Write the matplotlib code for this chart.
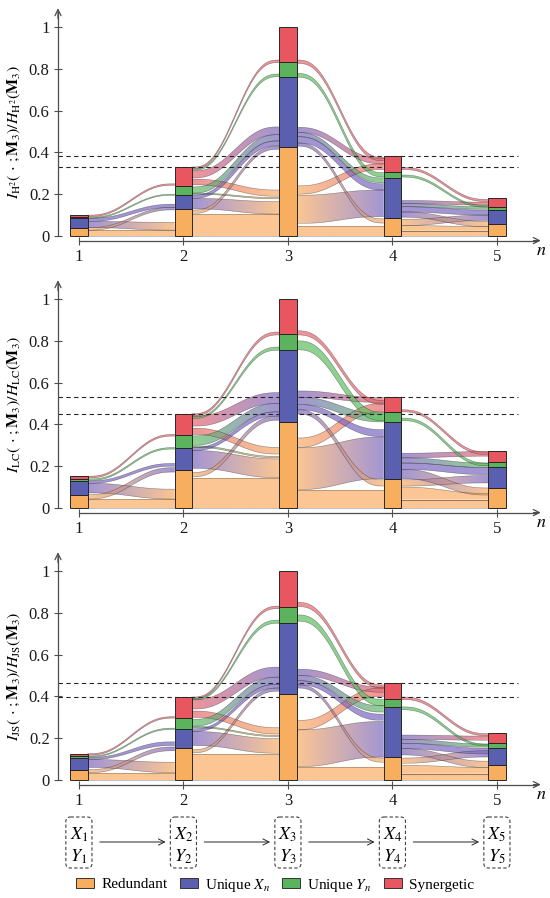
import numpy as np
import matplotlib
matplotlib.use("Agg")
import matplotlib.pyplot as plt
from matplotlib.patches import Polygon, Patch, FancyBboxPatch
from matplotlib.colors import to_rgba

plt.rcParams['font.family'] = ['Liberation Serif', 'DejaVu Serif']
plt.rcParams['mathtext.fontset'] = 'stix'
plt.rcParams['font.size'] = 11

steps = [1, 2, 3, 4, 5]
atom_names = ['Redundant', 'Unique $X_n$', 'Unique $Y_n$', 'Synergetic']
bar_colors = ['#F8AE5F', '#5A5FAF', '#5BB35E', '#E8565F']
flow_colors = ['#FAB06A', '#7E6CC2', '#62C066', '#E96A72']

ylabels = [r'$I_{\mathrm{H}^2}(\,\cdot\,;\mathbf{M}_3)/H_{\mathrm{H}^2}(\mathbf{M}_3)$',
           r'$I_{\mathrm{LC}}(\,\cdot\,;\mathbf{M}_3)/H_{\mathrm{LC}}(\mathbf{M}_3)$',
           r'$I_{\mathrm{JS}}(\,\cdot\,;\mathbf{M}_3)/H_{\mathrm{JS}}(\mathbf{M}_3)$']

# atom sizes per step (redundant, unique X, unique Y, synergetic)
h2_red = [0.038, 0.129, 0.426, 0.086, 0.057]
h2_ux = [0.048, 0.067, 0.335, 0.191, 0.067]
h2_uy = [0.004, 0.044, 0.072, 0.029, 0.014]
h2_syn = [0.010, 0.090, 0.167, 0.077, 0.042]

lc_red = [0.064, 0.183, 0.411, 0.139, 0.096]
lc_ux = [0.066, 0.104, 0.343, 0.274, 0.098]
lc_uy = [0.010, 0.064, 0.078, 0.046, 0.024]
lc_syn = [0.012, 0.100, 0.168, 0.070, 0.056]

js_red = [0.048, 0.155, 0.413, 0.109, 0.072]
js_ux = [0.056, 0.088, 0.339, 0.238, 0.083]
js_uy = [0.011, 0.053, 0.075, 0.040, 0.021]
js_syn = [0.011, 0.101, 0.173, 0.075, 0.051]

# flows between steps: (source atom, target atom, left lo, left hi, right lo, right hi)
h2_flows = [
    [(0, 0, 0.000, 0.028, 0.000, 0.028), (1, 0, 0.040, 0.070, 0.028, 0.065),
     (0, 1, 0.028, 0.040, 0.125, 0.137), (1, 1, 0.070, 0.085, 0.137, 0.152),
     (2, 2, 0.085, 0.090, 0.195, 0.200), (3, 3, 0.093, 0.100, 0.243, 0.250)],
    [(0, 0, 0.000, 0.105, 0.000, 0.105), (1, 0, 0.130, 0.180, 0.105, 0.165),
     (2, 0, 0.200, 0.205, 0.178, 0.184), (3, 0, 0.245, 0.272, 0.190, 0.220),
     (0, 1, 0.108, 0.124, 0.415, 0.430), (1, 1, 0.180, 0.196, 0.432, 0.455),
     (2, 1, 0.205, 0.235, 0.455, 0.485), (3, 1, 0.278, 0.312, 0.485, 0.522),
     (2, 2, 0.314, 0.320, 0.762, 0.775), (3, 3, 0.322, 0.330, 0.830, 0.842)],
    [(0, 0, 0.000, 0.050, 0.000, 0.050), (0, 1, 0.060, 0.195, 0.093, 0.220),
     (0, 3, 0.200, 0.240, 0.318, 0.345), (1, 0, 0.430, 0.445, 0.062, 0.082),
     (1, 1, 0.445, 0.475, 0.220, 0.250), (1, 2, 0.475, 0.495, 0.255, 0.278),
     (1, 3, 0.495, 0.520, 0.345, 0.372), (2, 2, 0.760, 0.778, 0.283, 0.303),
     (3, 3, 0.826, 0.842, 0.360, 0.376)],
    [(0, 0, 0.000, 0.025, 0.000, 0.025), (0, 0, 0.025, 0.050, 0.025, 0.045),
     (0, 1, 0.050, 0.080, 0.075, 0.100), (1, 0, 0.090, 0.115, 0.045, 0.070),
     (1, 1, 0.115, 0.140, 0.100, 0.124), (1, 2, 0.140, 0.155, 0.128, 0.140),
     (1, 3, 0.155, 0.170, 0.148, 0.162), (2, 2, 0.282, 0.292, 0.138, 0.146),
     (3, 3, 0.318, 0.328, 0.165, 0.175)],
]

lc_flows = [
    [(0, 0, 0.000, 0.043, 0.000, 0.043), (1, 0, 0.072, 0.118, 0.043, 0.090),
     (0, 1, 0.043, 0.064, 0.172, 0.193), (1, 1, 0.118, 0.130, 0.200, 0.213),
     (2, 2, 0.132, 0.139, 0.282, 0.289), (3, 3, 0.144, 0.152, 0.344, 0.352)],
    [(0, 0, 0.000, 0.144, 0.000, 0.144), (1, 0, 0.190, 0.275, 0.145, 0.235),
     (2, 0, 0.290, 0.297, 0.240, 0.247), (3, 0, 0.352, 0.382, 0.258, 0.290),
     (0, 1, 0.150, 0.170, 0.420, 0.440), (1, 1, 0.275, 0.290, 0.440, 0.460),
     (2, 1, 0.300, 0.345, 0.460, 0.500), (3, 1, 0.392, 0.440, 0.500, 0.552),
     (2, 2, 0.428, 0.436, 0.755, 0.770), (3, 3, 0.441, 0.451, 0.828, 0.842)],
    [(0, 0, 0.000, 0.088, 0.000, 0.088), (0, 1, 0.088, 0.288, 0.140, 0.340),
     (0, 3, 0.290, 0.335, 0.460, 0.500), (1, 0, 0.450, 0.470, 0.105, 0.135),
     (1, 1, 0.470, 0.495, 0.342, 0.375), (1, 2, 0.495, 0.530, 0.412, 0.450),
     (1, 3, 0.530, 0.560, 0.505, 0.528), (2, 2, 0.757, 0.800, 0.418, 0.458),
     (3, 3, 0.828, 0.848, 0.496, 0.515)],
    [(0, 0, 0.000, 0.040, 0.000, 0.040), (0, 0, 0.040, 0.100, 0.040, 0.070),
     (0, 1, 0.105, 0.135, 0.120, 0.155), (1, 0, 0.140, 0.185, 0.062, 0.096),
     (1, 1, 0.185, 0.215, 0.160, 0.194), (1, 2, 0.215, 0.240, 0.194, 0.215),
     (1, 3, 0.240, 0.262, 0.248, 0.270), (2, 2, 0.418, 0.430, 0.202, 0.215),
     (3, 3, 0.460, 0.470, 0.256, 0.268)],
]

js_flows = [
    [(0, 0, 0.000, 0.035, 0.000, 0.035), (1, 0, 0.060, 0.098, 0.035, 0.085),
     (0, 1, 0.035, 0.050, 0.140, 0.158), (1, 1, 0.098, 0.108, 0.165, 0.183),
     (2, 2, 0.110, 0.115, 0.242, 0.248), (3, 3, 0.119, 0.126, 0.296, 0.303)],
    [(0, 0, 0.000, 0.125, 0.000, 0.125), (1, 0, 0.165, 0.232, 0.128, 0.198),
     (2, 0, 0.250, 0.256, 0.208, 0.214), (3, 0, 0.300, 0.330, 0.220, 0.250),
     (0, 1, 0.130, 0.145, 0.425, 0.440), (1, 1, 0.232, 0.245, 0.440, 0.458),
     (2, 1, 0.258, 0.290, 0.458, 0.492), (3, 1, 0.340, 0.385, 0.492, 0.540),
     (2, 2, 0.383, 0.390, 0.750, 0.765), (3, 3, 0.390, 0.397, 0.820, 0.832)],
    [(0, 0, 0.000, 0.064, 0.000, 0.064), (0, 1, 0.064, 0.240, 0.110, 0.280),
     (0, 3, 0.240, 0.285, 0.400, 0.440), (1, 0, 0.440, 0.455, 0.085, 0.105),
     (1, 1, 0.455, 0.475, 0.285, 0.315), (1, 2, 0.475, 0.500, 0.325, 0.355),
     (1, 3, 0.500, 0.530, 0.420, 0.445), (2, 2, 0.760, 0.790, 0.355, 0.385),
     (3, 3, 0.830, 0.850, 0.440, 0.455)],
    [(0, 0, 0.000, 0.030, 0.000, 0.030), (0, 0, 0.030, 0.070, 0.030, 0.060),
     (0, 1, 0.080, 0.105, 0.110, 0.140), (1, 0, 0.120, 0.150, 0.060, 0.090),
     (1, 1, 0.150, 0.175, 0.125, 0.152), (1, 2, 0.175, 0.195, 0.157, 0.172),
     (1, 3, 0.195, 0.215, 0.190, 0.210), (2, 2, 0.336, 0.350, 0.163, 0.172),
     (3, 3, 0.385, 0.397, 0.212, 0.222)],
]

panels = [
    ([h2_red, h2_ux, h2_uy, h2_syn], h2_flows),
    ([lc_red, lc_ux, lc_uy, lc_syn], lc_flows),
    ([js_red, js_ux, js_uy, js_syn], js_flows),
]

bar_w = 0.165
XMIN, XMAX = 0.8, 5.45
YMIN, YMAX = -0.1, 1.09
axis_col = '0.3'


def draw_band(ax, xa, xb, l0, l1, r0, r1, ca, cb):
    t = np.linspace(0, 1, 90)
    s = 6 * t**5 - 15 * t**4 + 10 * t**3
    x = xa + (xb - xa) * t
    lo = l0 + (r0 - l0) * s
    hi = l1 + (r1 - l1) * s
    verts = np.column_stack([np.r_[x, x[::-1]], np.r_[lo, hi[::-1]]])
    poly = Polygon(verts, closed=True, facecolor='none', edgecolor='none')
    ax.add_patch(poly)
    c0 = np.array(to_rgba(ca, 0.72))
    c1 = np.array(to_rgba(cb, 0.72))
    w = np.linspace(0, 1, 64)[:, None]
    grad = (c0 * (1 - w) + c1 * w)[None, :, :]
    im = ax.imshow(grad, extent=[xa, xb, min(lo.min(), hi.min()), max(lo.max(), hi.max())],
                   aspect='auto', interpolation='bilinear', origin='lower', zorder=1)
    im.set_clip_path(poly)
    ax.plot(x, lo, color='0.15', lw=0.4, alpha=0.5, zorder=1.5)
    ax.plot(x, hi, color='0.15', lw=0.4, alpha=0.5, zorder=1.5)


fig = plt.figure(figsize=(5.5, 8.98), dpi=100)

for i, (atoms, flows) in enumerate(panels):
    y0_px = 236 + 272 * i
    bottom_px = y0_px - YMIN * 209
    ax = fig.add_axes([58 / 550, 1 - bottom_px / 898, (XMAX - XMIN) * 104.5 / 550,
                       (YMAX - YMIN) * 209 / 898])
    ax.patch.set_alpha(0)

    totals = np.sum(np.array(atoms), axis=0)

    # flows
    for k, trans in enumerate(flows):
        xa = steps[k] + bar_w / 2
        xb = steps[k + 1] - bar_w / 2
        for src, dst, l0, l1, r0, r1 in trans:
            draw_band(ax, xa, xb, l0, l1, r0, r1, flow_colors[src], flow_colors[dst])

    # dashed reference lines at steps 2 and 4
    for idx in (1, 3):
        ax.plot([XMIN, 5.2], [totals[idx], totals[idx]], color='0.15', lw=0.8,
                dashes=(4, 3), zorder=2)

    # stacked bars
    base = np.zeros(len(steps))
    for j, vals in enumerate(atoms):
        ax.bar(steps, vals, bottom=base, width=bar_w, color=bar_colors[j],
               edgecolor='0.15', linewidth=0.7, zorder=3)
        base = base + np.array(vals)

    ax.set_xlim(XMIN, XMAX)
    ax.set_ylim(YMIN, YMAX)

    for side in ('top', 'right'):
        ax.spines[side].set_visible(False)
    ax.spines['left'].set_bounds(0, 1.07)
    ax.spines['bottom'].set_position(('data', -0.022))
    ax.spines['bottom'].set_bounds(1, 5.38)
    for side in ('left', 'bottom'):
        ax.spines[side].set_color(axis_col)
        ax.spines[side].set_linewidth(0.9)
    ax.annotate('', xy=(XMIN, 1.09), xytext=(XMIN, 1.04),
                arrowprops=dict(arrowstyle='->', lw=0.9, color=axis_col,
                                shrinkA=0, shrinkB=0), annotation_clip=False)
    ax.annotate('', xy=(5.42, -0.022), xytext=(5.35, -0.022),
                arrowprops=dict(arrowstyle='->', lw=0.9, color=axis_col,
                                shrinkA=0, shrinkB=0), annotation_clip=False)
    ax.text(5.42, -0.068, '$n$', ha='center', va='center', fontsize=13)

    ax.set_xticks(steps)
    ax.set_xticklabels([str(s) for s in steps])
    ax.set_yticks([0, 0.2, 0.4, 0.6, 0.8, 1])
    ax.set_yticklabels(['0', '0.2', '0.4', '0.6', '0.8', '1'])
    ax.tick_params(direction='inout', length=6, width=0.8, color=axis_col,
                   labelsize=12, labelcolor='0.1')
    ax.tick_params(axis='x', pad=3)
    ax.tick_params(axis='y', pad=3)
    ax.set_ylabel(ylabels[i], fontsize=11.5)
    ax.yaxis.set_label_coords(-0.072, 0.5)

# Markov chain diagram
axd = fig.add_axes([58 / 550, 0, (XMAX - XMIN) * 104.5 / 550, 95 / 898])
axd.set_xlim(XMIN, XMAX)
axd.set_ylim(898, 803)
axd.axis('off')
for n in steps:
    box = FancyBboxPatch((n - 0.125, 817), 0.25, 51,
                         boxstyle='round,pad=0,rounding_size=0.045',
                         mutation_aspect=100, facecolor='none', edgecolor='0.25',
                         linewidth=0.8, linestyle=(0, (3, 2)))
    axd.add_patch(box)
    axd.text(n, 835, f'$X_{n}$', ha='center', va='center', fontsize=13)
    axd.text(n, 857, f'$Y_{n}$', ha='center', va='center', fontsize=13)
for a, b in zip(steps[:-1], steps[1:]):
    axd.annotate('', xy=(b - 0.17, 842), xytext=(a + 0.2, 842),
                 arrowprops=dict(arrowstyle='->', lw=0.7, color='0.15',
                                 shrinkA=0, shrinkB=0))

handles = [Patch(facecolor=c, edgecolor='0.2', linewidth=0.7) for c in bar_colors]
fig.legend(handles, atom_names, loc='center', bbox_to_anchor=(0.5, 1 - 885 / 898),
           ncol=4, frameon=False, fontsize=11, handlelength=1.2, handleheight=0.65,
           columnspacing=0.8, handletextpad=0.45)

fig.savefig('out.png', dpi=100)
